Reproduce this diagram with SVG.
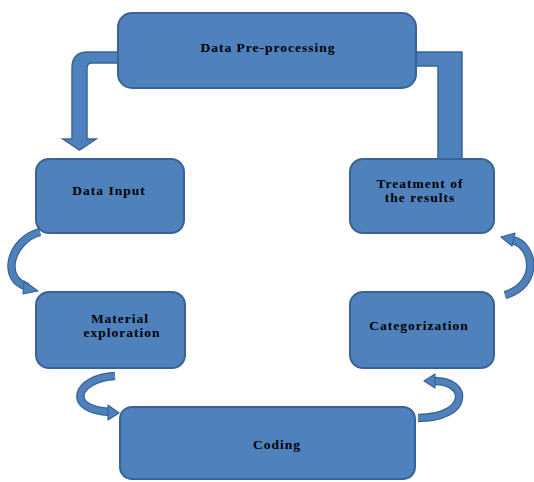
<svg xmlns="http://www.w3.org/2000/svg" width="534" height="482" viewBox="0 0 534 482">
<style>
.box{fill:#4F81BD;stroke:#3A6395;stroke-width:2}
.lbl{font-family:"Liberation Serif","Times New Roman",serif;font-weight:bold;font-size:13.5px;fill:#000;text-anchor:middle;letter-spacing:1px}
.band-o{fill:none;stroke:#3A6395;stroke-width:8.5;stroke-linecap:butt}
.band-i{fill:none;stroke:#4F81BD;stroke-width:6;stroke-linecap:butt}
.head{fill:#4F81BD;stroke:#3A6395;stroke-width:1.2;stroke-linejoin:round}
.blk{fill:#4F81BD;stroke:#3A6395;stroke-width:1.5;stroke-linejoin:miter}
</style>
<rect width="534" height="482" fill="#fff"/>
<g id="connectors">
  <path class="blk" d="M118,52 L88,52 Q72,52 72,68 L72,139 L63,139 L79.5,150 L96,139 L87,139 L87,68 Q87,63 92,63 L118,63 Z"/>
  <path class="blk" d="M416,52 L462,52 L462,159 L438,159 L438,66 L416,66 Z"/>
  <path class="band-o" d="M40,232 C10,240 0,280 28,287"/>
  <path class="band-i" d="M40,232 C10,240 0,280 28,287"/>
  <polygon class="head" points="24,281 38,291 23,294"/>
  <path class="band-o" d="M505,295 C540,285 535,245 512,240"/>
  <path class="band-i" d="M505,295 C540,285 535,245 512,240"/>
  <polygon class="head" points="515,233 501,237 512,246"/>
  <path class="band-o" d="M115,376 C75,378 65,410 110,412"/>
  <path class="band-i" d="M115,376 C75,378 65,410 110,412"/>
  <polygon class="head" points="108,405 119,413 108,420"/>
  <path class="band-o" d="M418,418 C470,418 470,380 433,381"/>
  <path class="band-i" d="M418,418 C470,418 470,380 433,381"/>
  <polygon class="head" points="435,374 424,381 435,388"/>
</g>
<g id="node-preprocessing">
  <rect class="box" x="118" y="13" width="298" height="75" rx="14"/>
  <text class="lbl" x="268" y="52">Data Pre-processing</text>
</g>
<g id="node-input">
  <rect class="box" x="36" y="159" width="148" height="74" rx="13"/>
  <text class="lbl" x="109" y="195">Data Input</text>
</g>
<g id="node-treatment">
  <rect class="box" x="350" y="159" width="144" height="74" rx="13"/>
  <text class="lbl" x="420" y="188">Treatment of</text>
  <text class="lbl" x="420" y="202">the results</text>
</g>
<g id="node-material">
  <rect class="box" x="36" y="292" width="149" height="76" rx="13"/>
  <text class="lbl" x="120" y="323">Material</text>
  <text class="lbl" x="122" y="337">exploration</text>
</g>
<g id="node-categorization">
  <rect class="box" x="350" y="292" width="144" height="76" rx="13"/>
  <text class="lbl" x="419" y="330">Categorization</text>
</g>
<g id="node-coding">
  <rect class="box" x="120" y="407" width="295" height="72" rx="12"/>
  <text class="lbl" x="277" y="449">Coding</text>
</g>
</svg>
